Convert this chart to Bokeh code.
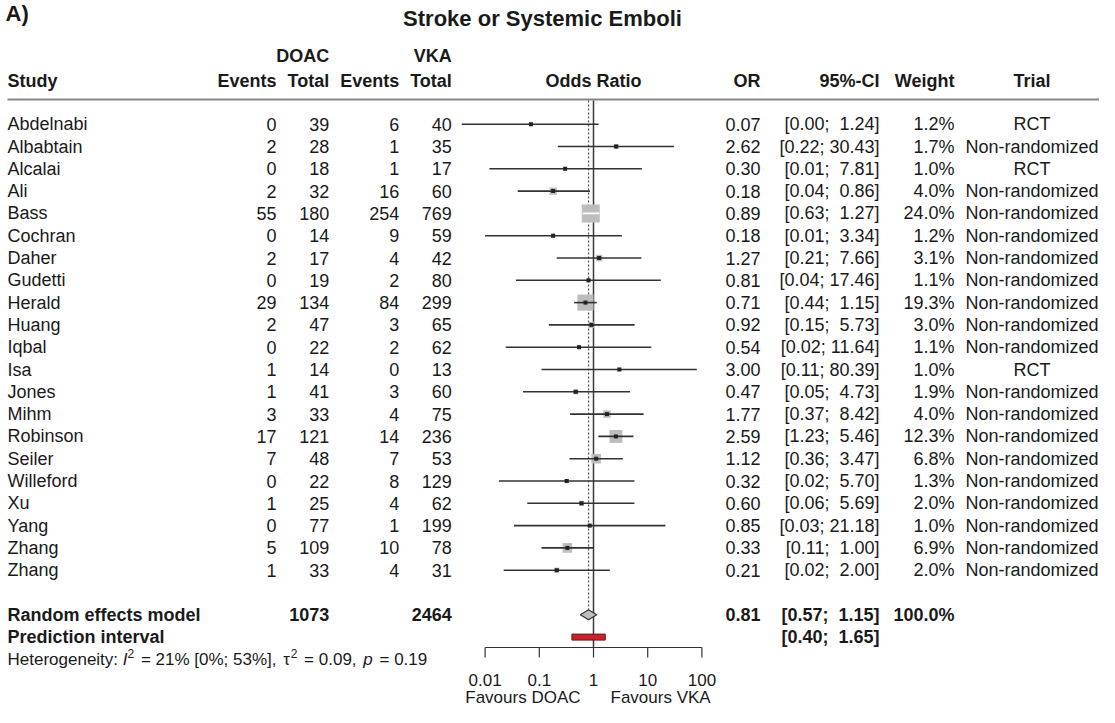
import math
from bokeh.plotting import figure
from bokeh.models import Range1d, LogScale
from bokeh.core.properties import value
from bokeh.embed import file_html
from bokeh.resources import INLINE

# ---------------- data ----------------
studies = ["Abdelnabi", "Albabtain", "Alcalai", "Ali", "Bass", "Cochran", "Daher",
           "Gudetti", "Herald", "Huang", "Iqbal", "Isa", "Jones", "Mihm", "Robinson",
           "Seiler", "Willeford", "Xu", "Yang", "Zhang", "Zhang"]
doac_events = [0, 2, 0, 2, 55, 0, 2, 0, 29, 2, 0, 1, 1, 3, 17, 7, 0, 1, 0, 5, 1]
doac_total = [39, 28, 18, 32, 180, 14, 17, 19, 134, 47, 22, 14, 41, 33, 121, 48, 22, 25, 77, 109, 33]
vka_events = [6, 1, 1, 16, 254, 9, 4, 2, 84, 3, 2, 0, 3, 4, 14, 7, 8, 4, 1, 10, 4]
vka_total = [40, 35, 17, 60, 769, 59, 42, 80, 299, 65, 62, 13, 60, 75, 236, 53, 129, 62, 199, 78, 31]
odds_ratio = [0.07, 2.62, 0.30, 0.18, 0.89, 0.18, 1.27, 0.81, 0.71, 0.92, 0.54, 3.00, 0.47,
              1.77, 2.59, 1.12, 0.32, 0.60, 0.85, 0.33, 0.21]
ci_lower = [0.0037, 0.22, 0.012, 0.04, 0.63, 0.01, 0.21, 0.037, 0.44, 0.15, 0.024, 0.11, 0.05,
            0.37, 1.23, 0.36, 0.018, 0.06, 0.034, 0.11, 0.022]
ci_upper = [1.24, 30.43, 7.81, 0.86, 1.27, 3.34, 7.66, 17.46, 1.15, 5.73, 11.64, 80.39, 4.73,
            8.42, 5.46, 3.47, 5.70, 5.69, 21.18, 1.00, 2.00]
weight_pct = [1.2, 1.7, 1.0, 4.0, 24.0, 1.2, 3.1, 1.1, 19.3, 3.0, 1.1, 1.0, 1.9, 4.0, 12.3,
              6.8, 1.3, 2.0, 1.0, 6.9, 2.0]
trial_type = ["RCT", "Non-randomized", "RCT", "Non-randomized", "Non-randomized",
              "Non-randomized", "Non-randomized", "Non-randomized", "Non-randomized",
              "Non-randomized", "Non-randomized", "RCT", "Non-randomized", "Non-randomized",
              "Non-randomized", "Non-randomized", "Non-randomized", "Non-randomized",
              "Non-randomized", "Non-randomized", "Non-randomized"]

pooled_or = 0.81
pooled_lo = 0.57
pooled_hi = 1.15
pooled_weight_label = "100.0%"
pred_lo = 0.40
pred_hi = 1.65
het_I2, het_I2_lo, het_I2_hi = 21, 0, 53
het_tau2 = 0.09
het_p = 0.19

axis_ticks = [0.01, 0.1, 1, 10, 100]
axis_tick_labels = ["0.01", "0.1", "1", "10", "100"]

# ---------------- layout ----------------
W, H = 1099, 707
FS = 18
FONT = value("Liberation Sans")
TXT = "#1a1a1a"

X_STUDY = 7
X_DE, X_DT, X_VE, X_VT = 276, 328.7, 398.7, 451.3
X_OR, X_CI, X_W, X_TRIAL = 760, 879, 954, 1031.5
ROW0, ROWH = 123.7, 22.3
Y_GROUP, Y_HEAD, Y_RULE = 55, 80, 99
X_ONE, DEC = 593.0, 54.2          # pixel of OR = 1, pixels per decade
AXIS_Y, TICK_LEN, TICKLAB_Y, FAV_Y = 647, 10, 679, 697
LINE_TOP = 100

p = figure(width=W, height=H, output_backend="svg", toolbar_location=None,
           x_range=Range1d(0, W), y_range=Range1d(H, 0), min_border=0,
           x_axis_location=None, y_axis_location=None)
p.grid.visible = False
p.outline_line_color = None
p.extra_x_ranges = {"or": Range1d(10 ** (-X_ONE / DEC), 10 ** ((W - X_ONE) / DEC))}
p.extra_x_scales = {"or": LogScale()}


def txt(x, y, s, align="left", size=FS, style="normal", rn=None, x_offset=0, color=TXT):
    kw = {"x_range_name": rn} if rn else {}
    xs = x if isinstance(x, list) else [x]
    ys = y if isinstance(y, list) else [y] * len(xs)
    ss = s if isinstance(s, list) else [s]
    p.text(x=xs, y=ys, text=ss, text_align=align, text_baseline="middle",
           text_font=FONT, text_font_size=f"{size}px", text_font_style=style,
           text_color=color, x_offset=x_offset, **kw)


# Arial metrics (per 1000 em) for placing pieces of the heterogeneity line
AW = {' ': 278, 'H': 722, 'e': 556, 't': 278, 'r': 333, 'o': 556, 'g': 556, 'n': 556,
      'i': 222, 'y': 500, ':': 278, 'I': 278, '=': 584, '%': 889, '[': 278, ']': 278,
      ';': 278, ',': 278, '.': 278, 'p': 556, 'τ': 440}


def tw(s, size):
    return sum(AW.get(c, 556) for c in s) * size / 1000.0


n = len(studies)
ys = [ROW0 + ROWH * i for i in range(n)]
y_re = ROW0 + ROWH * (n + 1)
y_pi = y_re + ROWH
y_het = y_pi + ROWH

# title
txt(5, 13, "A)", size=22, style="bold")
txt(542, 18, "Stroke or Systemic Emboli", align="center", size=22, style="bold")

# headers
txt(X_DT, Y_GROUP, "DOAC", align="right", style="bold")
txt(X_VT, Y_GROUP, "VKA", align="right", style="bold")
txt(X_STUDY, Y_HEAD, "Study", style="bold")
txt([X_DE, X_DT, X_VE, X_VT], Y_HEAD, ["Events", "Total", "Events", "Total"], align="right", style="bold")
txt(1, Y_HEAD, "Odds Ratio", align="center", style="bold", rn="or")
txt([X_OR, X_CI, X_W], Y_HEAD, ["OR", "95%-CI", "Weight"], align="right", style="bold")
txt(X_TRIAL, Y_HEAD, "Trial", align="center", style="bold")
p.segment(x0=[X_STUDY], x1=[W], y0=[Y_RULE], y1=[Y_RULE], line_color="#858585", line_width=2)


def ci_label(lo, hi):
    hs = f"{hi:.2f}"
    pad = "\u00a0" * (5 - len(hs))
    return f"[{lo:.2f}; {pad}{hs}]"


# study rows
txt([X_STUDY] * n, ys, studies)
txt([X_DE] * n, ys, [str(v) for v in doac_events], align="right")
txt([X_DT] * n, ys, [str(v) for v in doac_total], align="right")
txt([X_VE] * n, ys, [str(v) for v in vka_events], align="right")
txt([X_VT] * n, ys, [str(v) for v in vka_total], align="right")
txt([X_OR] * n, ys, [f"{v:.2f}" for v in odds_ratio], align="right")
txt([X_CI] * n, ys, [ci_label(a, b) for a, b in zip(ci_lower, ci_upper)], align="right")
txt([X_W] * n, ys, [f"{w:.1f}%" for w in weight_pct], align="right")
txt([X_TRIAL] * n, ys, trial_type, align="center")

# summary rows
txt(X_STUDY, y_re, "Random effects model", style="bold")
txt(X_DT, y_re, str(sum(doac_total)), align="right", style="bold")
txt(X_VT, y_re, str(sum(vka_total)), align="right", style="bold")
txt(X_OR, y_re, f"{pooled_or:.2f}", align="right", style="bold")
txt(X_CI, y_re, ci_label(pooled_lo, pooled_hi), align="right", style="bold")
txt(X_W, y_re, pooled_weight_label, align="right", style="bold")
txt(X_STUDY, y_pi, "Prediction interval", style="bold")
txt(X_CI, y_pi, ci_label(pred_lo, pred_hi), align="right", style="bold")

# heterogeneity line (pieces: italic I, superscripts, italic p)
HS, SS = 17, 12
EQ_PAD = 2.0   # extra math spacing around '='
pieces = [("Heterogeneity: ", "normal", HS, 0, 0),
          ("I", "italic", HS, 0, 0),
          ("2", "normal", SS, -6, 0),
          (f" = {het_I2}% [{het_I2_lo}%; {het_I2_hi}%], ", "normal", HS, 0, EQ_PAD),
          ("τ", "normal", HS, 0, 0),
          ("2", "normal", SS, -6, 0),
          (f" = {het_tau2:.2f}, ", "normal", HS, 0, EQ_PAD),
          ("p", "italic", HS, 0, 0),
          (f" = {het_p:.2f}", "normal", HS, 0, EQ_PAD)]
cx = X_STUDY
for s, st, sz, dy, pad in pieces:
    lead = len(s) - len(s.lstrip(" "))
    txt(cx + tw(" " * lead, sz) + pad, y_het + dy, s.strip(" "), size=sz, style=st)
    cx += tw(s, sz) + 2 * pad

# forest: reference lines
p.segment(x0=[1], x1=[1], y0=[LINE_TOP], y1=[AXIS_Y], line_color="#3a3a3a",
          line_width=1.5, x_range_name="or")
p.segment(x0=[pooled_or], x1=[pooled_or], y0=[LINE_TOP], y1=[y_re - 5], line_color="#555555",
          line_width=1.2, line_dash="2 2", x_range_name="or")

# squares, CI lines, point markers
SQ_MAX = 18.0
wmax = max(weight_pct)
sizes = [SQ_MAX * math.sqrt(w / wmax) for w in weight_pct]
inside = [DEC * (math.log10(h) - math.log10(l)) < s for l, h, s in zip(ci_lower, ci_upper, sizes)]
p.scatter(x=odds_ratio, y=ys, size=sizes, marker="square", fill_color="#bdbdbd",
          line_color=None, x_range_name="or")
p.segment(x0=ci_lower, x1=ci_upper, y0=ys, y1=ys,
          line_color=["white" if f else "#333333" for f in inside], line_width=1.6,
          x_range_name="or")
pt_x = [o for o, f in zip(odds_ratio, inside) if not f]
pt_y = [y for y, f in zip(ys, inside) if not f]
p.scatter(x=pt_x, y=pt_y, size=4, marker="square", fill_color="#222222", line_color=None,
          x_range_name="or")

# pooled diamond and prediction interval
p.patch(x=[pooled_lo, pooled_or, pooled_hi, pooled_or], y=[y_re, y_re - 5, y_re, y_re + 5],
        fill_color="#bdbdbd", line_color="#333333", line_width=1.2, x_range_name="or")
p.quad(left=[pred_lo], right=[pred_hi], top=[y_pi - 3], bottom=[y_pi + 3],
       fill_color="#c8232c", line_color="#6e1414", line_width=1, x_range_name="or")

# x axis
p.segment(x0=[axis_ticks[0]], x1=[axis_ticks[-1]], y0=[AXIS_Y], y1=[AXIS_Y],
          line_color="#333333", line_width=1.2, x_range_name="or")
p.segment(x0=axis_ticks, x1=axis_ticks, y0=[AXIS_Y] * len(axis_ticks),
          y1=[AXIS_Y + TICK_LEN] * len(axis_ticks), line_color="#333333", line_width=1.2,
          x_range_name="or")
txt(axis_ticks, TICKLAB_Y, axis_tick_labels, align="center", size=17, rn="or")
txt(1, FAV_Y, "Favours DOAC", align="right", size=17, rn="or", x_offset=-13)
txt(1, FAV_Y, "Favours VKA", align="left", size=17, rn="or", x_offset=17)

open("out.html", "w").write(file_html(p, INLINE))
